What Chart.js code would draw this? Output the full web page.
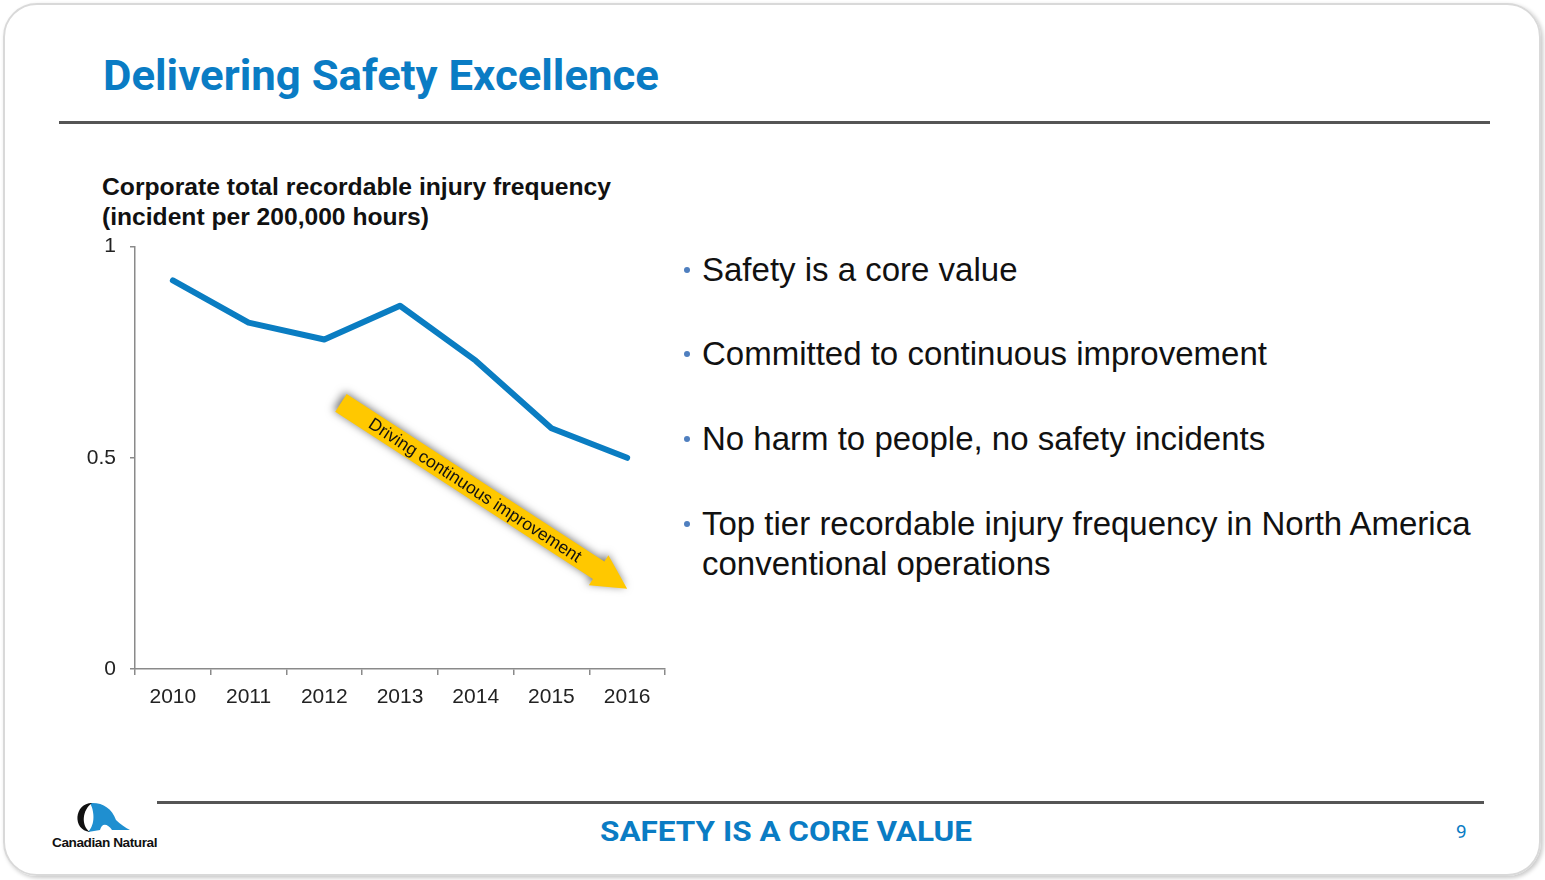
<!DOCTYPE html>
<html>
<head>
<meta charset="utf-8">
<script src="https://cdn.jsdelivr.net/npm/chart.js@4.4.1/dist/chart.umd.min.js"></script>
<style>
  html, body { margin: 0; padding: 0; background: #fff; }
  body { width: 1545px; height: 880px; position: relative; overflow: hidden; font-family: "Liberation Sans", Arial, sans-serif; }
  .card {
    position: absolute; left: 3px; top: 3px; width: 1534px; height: 869px;
    border: 2px solid #d9d9d9; border-radius: 34px;
    box-shadow: 2px 2px 4px rgba(0,0,0,0.22);
  }
  .title {
    position: absolute; left: 103px; top: 55px; white-space: nowrap;
    font-family: Roboto, sans-serif; font-weight: 700; font-size: 42px; line-height: 42px;
    color: #0a7cc4; transform-origin: left top;
  }
  .rule { position: absolute; background: #555; height: 3px; }
  .chart-title {
    position: absolute; left: 102px; white-space: nowrap;
    font-weight: 700; font-size: 23px; line-height: 30px; color: #111; transform-origin: left top;
  }
  .bullet {
    position: absolute; left: 702px; font-size: 33px; line-height: 40px; color: #111; white-space: nowrap;
  }
  .bullet::before {
    content: ""; position: absolute; left: -18px; top: 17px; width: 6px; height: 6px;
    border-radius: 50%; background: #4f7fbf;
  }
  .foot {
    position: absolute; left: 600px; top: 818px; white-space: nowrap;
    font-family: Roboto, sans-serif; font-weight: 700; font-size: 28px; line-height: 28px;
    color: #0a7cc4; transform-origin: left top;
  }
  .page { position: absolute; left: 1456px; top: 820px; font-family: Roboto, sans-serif; font-size: 19px; line-height: 24px; color: #0a7cc4; }
  #wrap { position: absolute; left: 60px; top: 220px; width: 620px; height: 505px; }
  .logo { position: absolute; left: 50px; top: 800px; }
</style>
</head>
<body>
<div class="card"></div>

<div class="title" data-fit="556">Delivering Safety Excellence</div>
<div class="rule" style="left:59px; top:121px; width:1431px;"></div>

<div class="chart-title" style="top:172px;" data-fit="509">Corporate total recordable injury frequency</div>
<div class="chart-title" style="top:202px;" data-fit="327">(incident per 200,000 hours)</div>

<div id="wrap"><canvas id="chart"></canvas></div>

<div class="bullet" style="top:250px;">Safety is a core value</div>
<div class="bullet" style="top:334px;">Committed to continuous improvement</div>
<div class="bullet" style="top:419px;">No harm to people, no safety incidents</div>
<div class="bullet" style="top:504px;">Top tier recordable injury frequency in North America<br>conventional operations</div>

<div class="rule" style="left:157px; top:801px; width:1327px;"></div>
<div class="foot" data-fit="372">SAFETY IS A CORE VALUE</div>
<div class="page">9</div>

<svg class="logo" width="110" height="52" viewBox="0 0 110 52">
  <path d="M40 3 C52 2 62 8 66 20 C70 24 76 28 80 30 L62 30 C58 24 52 22 50 30 L38 32 C46 24 44 10 40 3 Z" fill="#1f8fd0"/>
  <path d="M42 3 C24 3 22 30 40 32 C31 26 32 10 42 3 Z" fill="#111"/>
  <text x="2" y="47" font-family="Liberation Sans, Arial" font-weight="700" font-size="12.5" letter-spacing="-0.4" fill="#111" textLength="105" lengthAdjust="spacingAndGlyphs">Canadian Natural</text>
</svg>

<script>
// данные графика
const years  = ['2010', '2011', '2012', '2013', '2014', '2015', '2016'];
const trif   = [0.92, 0.82, 0.78, 0.86, 0.73, 0.57, 0.50];
const yTicks = [0, 0.5, 1];
const arrowLabel = 'Driving continuous improvement';

// подгоняем ширину заголовков (узкий шрифт оригинала недоступен)
document.querySelectorAll('[data-fit]').forEach(el => {
  const target = +el.dataset.fit;
  const w = el.getBoundingClientRect().width;
  if (w > 0) el.style.transform = 'scaleX(' + (target / w) + ')';
});

const axisColor = '#8a8a8a';
const tickFont  = { family: 'Liberation Sans', size: 21 };

// жёлтая стрелка-аннотация, привязана к шкалам графика
const arrowPlugin = {
  id: 'trendArrow',
  afterDatasetsDraw(chart) {
    const { ctx, scales: { x, y } } = chart;
    const x0 = x.getPixelForValue(2.22), y0 = y.getPixelForValue(0.63);
    const x1 = x.getPixelForValue(6.0),  y1 = y.getPixelForValue(0.19);
    const len = Math.hypot(x1 - x0, y1 - y0);
    const ang = Math.atan2(y1 - y0, x1 - x0);
    const w = 21, hw = 36, hl = 34;

    ctx.save();
    ctx.translate(x0, y0);
    ctx.rotate(ang);
    ctx.beginPath();
    ctx.moveTo(0, -w / 2);
    ctx.lineTo(len - hl, -w / 2);
    ctx.lineTo(len - hl, -hw / 2);
    ctx.lineTo(len, 0);
    ctx.lineTo(len - hl, hw / 2);
    ctx.lineTo(len - hl, w / 2);
    ctx.lineTo(0, w / 2);
    ctx.closePath();
    ctx.shadowColor = 'rgba(0,0,0,0.55)';
    ctx.shadowBlur = 9;
    ctx.shadowOffsetX = -2;
    ctx.shadowOffsetY = -2;
    ctx.fillStyle = '#ffc800';
    ctx.fill();
    ctx.shadowColor = 'transparent';

    ctx.fillStyle = '#111';
    ctx.font = '17.5px "Liberation Sans", Arial, sans-serif';
    ctx.textAlign = 'center';
    ctx.textBaseline = 'middle';
    ctx.fillText(arrowLabel, 160, 1);
    ctx.restore();
  },
};

new Chart(document.getElementById('chart'), {
  type: 'line',
  data: {
    labels: years,
    datasets: [{
      label: 'TRIF',
      data: trif,
      borderColor: '#0a7dc2',
      borderWidth: 6,
      borderCapStyle: 'round',
      borderJoinStyle: 'round',
      pointRadius: 0,
      fill: false,
      tension: 0,
    }],
  },
  options: {
    responsive: true,
    maintainAspectRatio: false,
    animation: false,
    layout: { padding: { top: 0, right: 15, left: 0, bottom: 0 } },
    plugins: { legend: { display: false }, tooltip: { enabled: false } },
    scales: {
      x: {
        offset: true,
        grid: { display: true, offset: true, drawOnChartArea: false, color: axisColor, tickLength: 6, lineWidth: 1.5 },
        border: { color: axisColor, width: 1.5 },
        ticks: { color: '#222', font: tickFont, padding: 10, maxRotation: 0 },
        afterFit: s => { s.height = 56; },
      },
      y: {
        min: 0, max: 1,
        afterBuildTicks: s => { s.ticks = yTicks.map(v => ({ value: v })); },
        grid: { display: true, drawOnChartArea: false, color: axisColor, tickLength: 5, lineWidth: 1.5 },
        border: { color: axisColor, width: 1.5 },
        ticks: { color: '#222', font: tickFont, padding: 14, callback: v => String(v) },
        afterFit: s => { s.width = 75; },
      },
    },
  },
  plugins: [arrowPlugin],
});
</script>
</body>
</html>
